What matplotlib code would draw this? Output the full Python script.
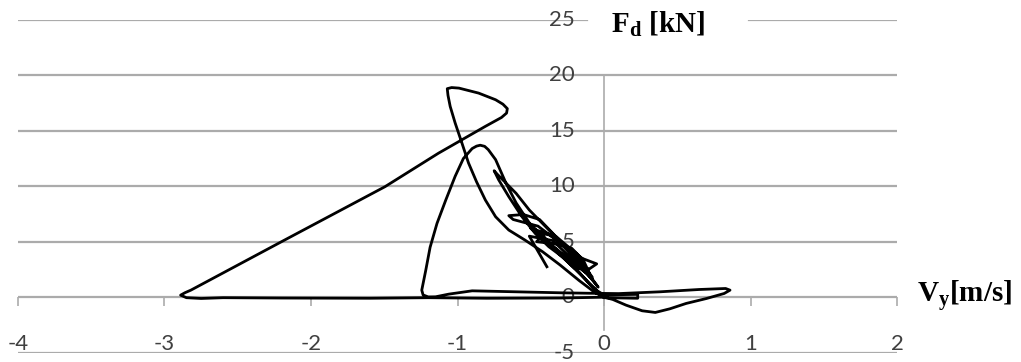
#!/usr/bin/env python3
"""Damper force vs. vertical velocity (F_d - V_y loop)."""

import matplotlib.pyplot as plt

# ---------------------------------------------------------------------------
# Data
# ---------------------------------------------------------------------------

vy = [
    0.02, -0.3, -0.8, -1.2, -1.6, -2.2, -2.6, -2.75, -2.85, -2.89,
    -2.86, -2.82, -2.18, -1.495, -1.13, -0.81, -0.7, -0.665, -0.66, -0.69,
    -0.74, -0.856, -0.99, -1.04, -1.07, -1.065, -1.05, -1.016, -0.97, -0.925,
    -0.87, -0.81, -0.74, -0.65, -0.54, -0.42, -0.3, -0.17, -0.06, 0.0,
    0.06, 0.15, 0.26, 0.35, 0.45, 0.56, 0.70, 0.82, 0.86, 0.83,
    0.65, 0.38, 0.1, -0.1, -0.29, -0.6, -0.9, -1.06, -1.15, -1.2,
    -1.235, -1.244, -1.217, -1.187, -1.14, -1.08, -1.016, -0.96, -0.90, -0.87,
    -0.845, -0.815, -0.79, -0.74, -0.67, -0.60, -0.51, -0.4, -0.28, -0.15,
    -0.05, 0.0,
    0.23, 0.23, 0.0,
    -0.1, -0.22, -0.377, -0.47, -0.56, -0.65, -0.72, -0.75, -0.73, -0.60,
    -0.51, -0.42, -0.32, -0.2, -0.1, -0.04,
    -0.12, -0.35, -0.5, -0.38, -0.2, -0.08, -0.25, -0.45, -0.33, -0.15,
    -0.15, -0.3, -0.45, -0.62, -0.65, -0.55, -0.44, -0.36, -0.26, -0.17,
    -0.05, -0.1, -0.2, -0.3, -0.42, -0.46, -0.33, -0.22, -0.14, -0.08,
    -0.2, -0.35, -0.51, -0.39,
]
fd = [
    0.0, -0.08, -0.1, -0.05, -0.1, -0.08, -0.05, -0.12, -0.05, 0.18,
    0.4, 0.63, 5.15, 9.96, 12.98, 15.4, 16.2, 16.6, 17.0, 17.4,
    17.8, 18.4, 18.85, 18.9, 18.8, 18.2, 17.2, 15.7, 13.9, 12.1,
    10.4, 8.76, 7.25, 6.05, 5.15, 4.1, 2.9, 1.5, 0.4, 0.0,
    -0.21, -0.72, -1.23, -1.38, -1.05, -0.57, -0.12, 0.33, 0.63, 0.78,
    0.69, 0.48, 0.32, 0.35, 0.39, 0.48, 0.57, 0.27, 0.03, 0.02,
    0.2, 0.63, 2.4, 4.5, 6.65, 8.76, 10.9, 12.5, 13.4, 13.62,
    13.7, 13.6, 13.3, 12.4, 10.3, 8.5, 6.7, 5.2, 3.6, 1.9,
    0.6, 0.2,
    0.25, -0.1, -0.05,
    1.2, 3.0, 4.55, 5.75, 7.25, 9.06, 10.6, 11.4, 11.1, 9.36,
    7.86, 6.65, 5.3, 3.6, 2.0, 0.9,
    2.2, 4.6, 6.2, 5.7, 3.9, 1.8, 3.4, 5.8, 5.5, 3.5,
    2.8, 4.9, 6.4, 7.0, 7.35, 7.45, 7.0, 5.9, 4.5, 3.6,
    3.0, 2.55, 2.6, 3.8, 5.6, 5.0, 4.8, 4.4, 3.3, 1.6,
    3.2, 5.1, 5.5, 2.74,
]

x_ticks = [-4, -3, -2, -1, 0, 1, 2]
y_ticks = [-5, 0, 5, 10, 15, 20, 25]

GRID_COLOR = "#ABABAB"
TEXT_COLOR = "#404040"

plt.rcParams["mathtext.fontset"] = "custom"
plt.rcParams["mathtext.rm"] = "Liberation Serif"
plt.rcParams["mathtext.bf"] = "Liberation Serif:bold"

fig = plt.figure(figsize=(10.21, 3.62), dpi=100)
ax = fig.add_axes([0.0176, 0.026, 0.861, 0.919])
ax.set_xlim(-4, 2)
ax.set_ylim(-5, 25)

for spine in ax.spines.values():
    spine.set_visible(False)
ax.spines["bottom"].set_position(("data", 0))
ax.set_xticks(x_ticks)
ax.set_yticks([])
ax.tick_params(axis="x", direction="out", length=6.5, width=1.2,
               color=GRID_COLOR, labelbottom=False)

# ---- horizontal grid (the 25 line is broken by the axis title) ----
for y in y_ticks:
    if y == 25:
        ax.axhline(y, xmax=0.647, color=GRID_COLOR, lw=1.6, zorder=0)
        ax.axhline(y, xmin=0.832, color=GRID_COLOR, lw=1.6, zorder=0)
    else:
        ax.axhline(y, color=GRID_COLOR, lw=1.6, zorder=0)

# ---- vertical axis at V = 0 ----
ax.axvline(0, ymin=(-3 + 5) / 30, ymax=(20 + 5) / 30,
           color=GRID_COLOR, lw=1.2, zorder=0)

# ---- tick labels ----
for x in x_ticks:
    ax.text(x, -4.2, str(x), ha="center", va="center",
            fontsize=16, family="Lato", color=TEXT_COLOR)
for y in y_ticks:
    ax.text(-0.2, y, str(y), ha="right", va="center",
            fontsize=16, family="Lato", color=TEXT_COLOR)

# ---- curve ----
ax.plot(vy, fd, color="black", lw=2.0, solid_joinstyle="round", zorder=3)

# ---- axis titles ----
ax.text(0.048, 23.83, r"$\mathbf{F_d}$ [kN]", ha="left", va="baseline",
        fontsize=21, family="Liberation Serif", fontweight="bold")
ax.text(2.137, -0.54, r"$\mathbf{V_y}$[m/s]", ha="left", va="baseline",
        fontsize=21, family="Liberation Serif", fontweight="bold")

fig.savefig("out.png", dpi=100, facecolor="white")
